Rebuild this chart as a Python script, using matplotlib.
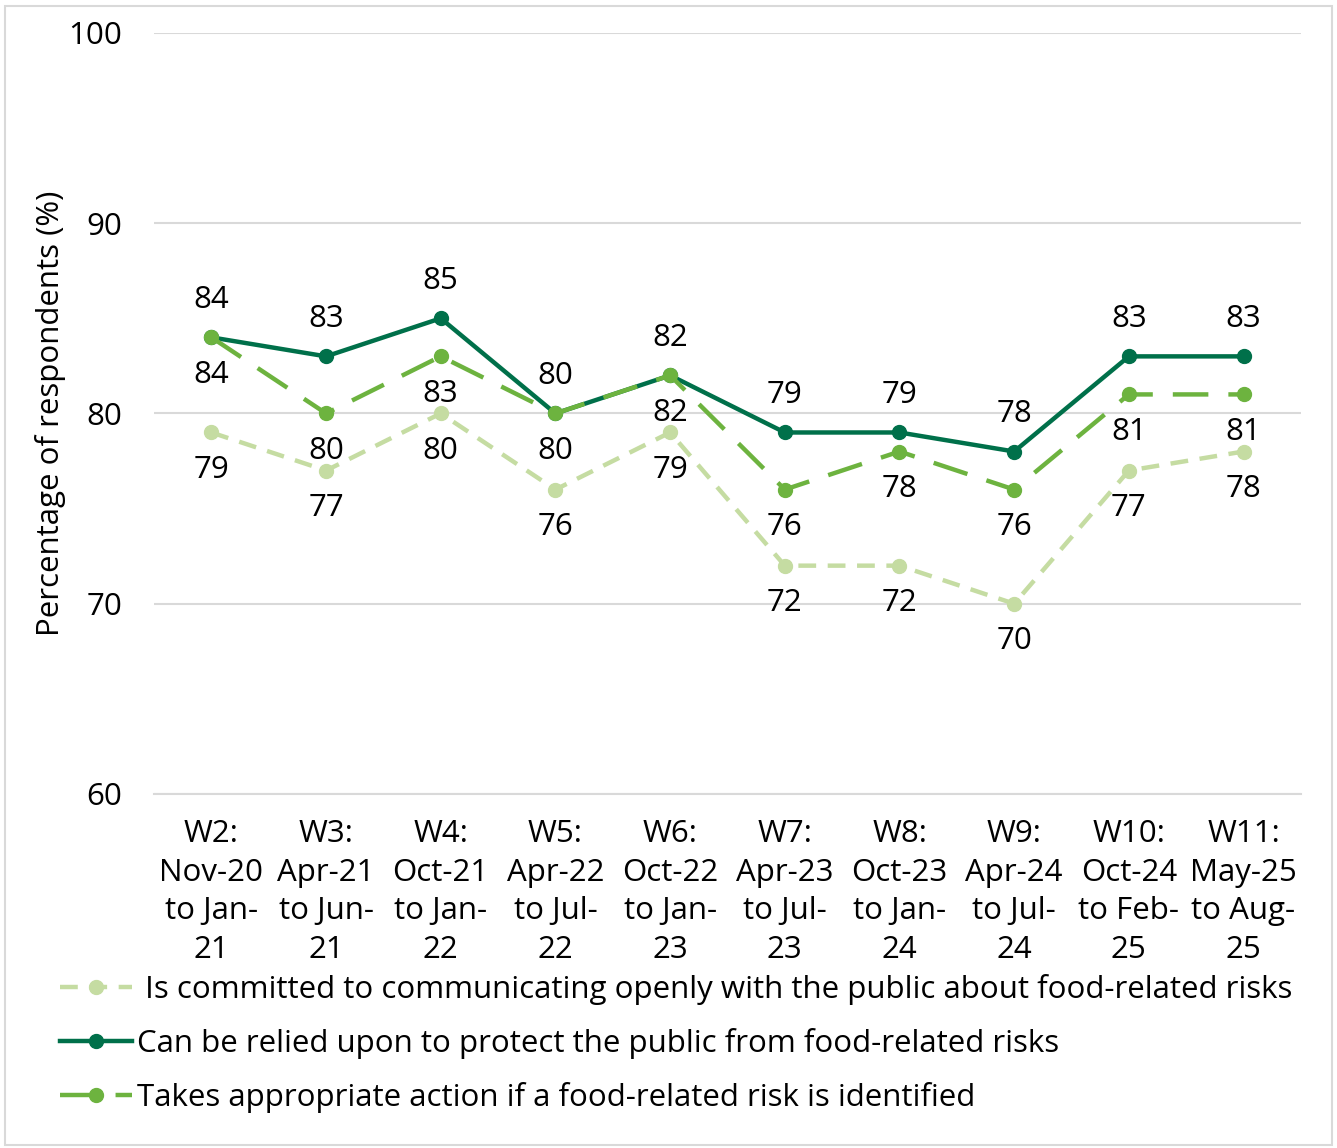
import matplotlib
matplotlib.use("Agg")
import matplotlib.pyplot as plt
from matplotlib.patches import Rectangle

plt.rcParams['font.family'] = ['Open Sans', 'DejaVu Sans']

categories = ["W2:\nNov-20\nto Jan-\n21", "W3:\nApr-21\nto Jun-\n21", "W4:\nOct-21\nto Jan-\n22",
              "W5:\nApr-22\nto Jul-\n22", "W6:\nOct-22\nto Jan-\n23", "W7:\nApr-23\nto Jul-\n23",
              "W8:\nOct-23\nto Jan-\n24", "W9:\nApr-24\nto Jul-\n24", "W10:\nOct-24\nto Feb-\n25",
              "W11:\nMay-25\nto Aug-\n25"]
communicating = [79, 77, 80, 76, 79, 72, 72, 70, 77, 78]
relied = [84, 83, 85, 80, 82, 79, 79, 78, 83, 83]
action = [84, 80, 83, 80, 82, 76, 78, 76, 81, 81]

names = [" Is committed to communicating openly with the public about food-related risks",
         "Can be relied upon to protect the public from food-related risks",
         "Takes appropriate action if a food-related risk is identified"]

c_light = "#c5dca2"
c_dark = "#00704a"
c_mid = "#6db33f"

fig = plt.figure(figsize=(13.37, 11.48), dpi=100)
ax = fig.add_axes([0.1152, 0.3084, 0.973 - 0.1152, 0.9713 - 0.3084])
fig.patches.append(Rectangle((0.004, 0.003), 0.992, 0.992, transform=fig.transFigure,
                             fill=False, edgecolor="#d9d9d9", linewidth=1.5))

x = list(range(len(categories)))
l1, = ax.plot(x, communicating, color=c_light, lw=3.2, marker="o", ms=10,
              dashes=(4, 2.6), label=names[0], zorder=3)
l2, = ax.plot(x, relied, color=c_dark, lw=3.2, marker="o", ms=10,
              label=names[1], zorder=4)
l3, = ax.plot(x, action, color=c_mid, lw=3.2, marker="o", ms=10,
              dashes=(8, 4.5), label=names[2], zorder=5)

fs = 22.5
for i in x:
    ax.annotate(str(relied[i]), (i, relied[i]), xytext=(0, 27), textcoords="offset points",
                ha="center", va="center", fontsize=fs)
    ax.annotate(str(action[i]), (i, action[i]), xytext=(0, -27), textcoords="offset points",
                ha="center", va="center", fontsize=fs)
    ax.annotate(str(communicating[i]), (i, communicating[i]), xytext=(0, -27),
                textcoords="offset points", ha="center", va="center", fontsize=fs)

ax.set_xlim(-0.5, len(categories) - 0.5)
ax.set_ylim(60, 100)
ax.set_yticks([60, 70, 80, 90, 100])
ax.set_xticks(x)
ax.set_xticklabels(categories, fontsize=fs, linespacing=1.38)
ax.tick_params(axis="y", labelsize=fs, length=0, pad=23)
ax.tick_params(axis="x", length=0, pad=18)
ax.yaxis.grid(True, color="#d9d9d9", lw=1.5)
ax.set_axisbelow(True)
for s in ax.spines.values():
    s.set_visible(False)
ax.spines["bottom"].set_visible(True)
ax.spines["bottom"].set_color("#d9d9d9")
ax.spines["bottom"].set_linewidth(1.5)
ax.set_ylabel("Percentage of respondents (%)", fontsize=fs)
ax.yaxis.set_label_coords(-0.077, 0.5)

fig.legend(handles=[l1, l2, l3], loc="upper left", bbox_to_anchor=(0.033, 0.1656),
           frameon=False, fontsize=fs, handlelength=2.3, handletextpad=0.16,
           labelspacing=0.75, borderpad=0)

fig.savefig("out.png", dpi=100)
